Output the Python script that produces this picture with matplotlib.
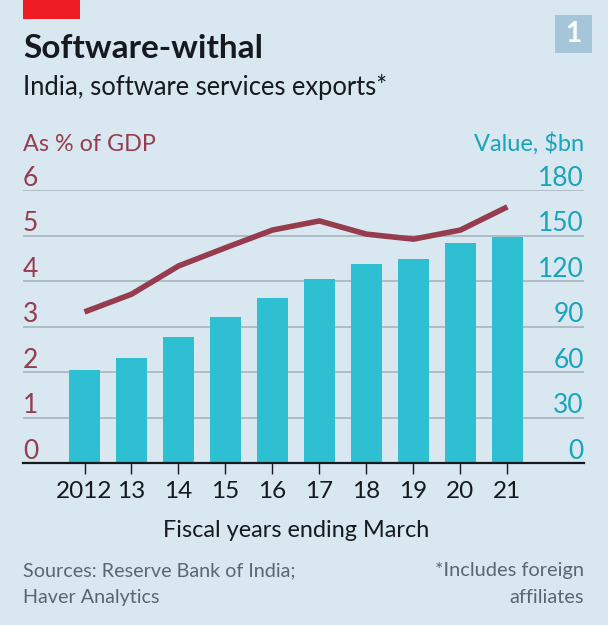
import matplotlib
matplotlib.use("Agg")
import matplotlib.pyplot as plt
from matplotlib.patches import Rectangle

years = ["2012", "13", "14", "15", "16", "17", "18", "19", "20", "21"]
value_bn = [61, 69, 83, 96, 109, 121, 131, 134.5, 145, 149]
pct_gdp = [3.32, 3.71, 4.33, 4.73, 5.12, 5.32, 5.03, 4.92, 5.12, 5.63]
left_ticks = [0, 1, 2, 3, 4, 5, 6]
right_ticks = [0, 30, 60, 90, 120, 150, 180]

BG = "#d8e7f0"
RED = "#963c4e"
CYAN = "#2fbfd3"
TEAL_TEXT = "#17a5bd"
DARK = "#16191d"
GREY = "#5b6770"
W, H = 608, 625

plt.rcParams["font.family"] = ["Lato", "DejaVu Sans"]

fig = plt.figure(figsize=(W / 100, H / 100), dpi=100, facecolor=BG)

# plot area in pixels: x 23-584, baseline y 463, top gridline y 190
ax = fig.add_axes([23 / W, 1 - 463 / H, 561 / W, 273 / H])
ax.set_facecolor("none")
ax2 = ax.twinx()
ax.set_zorder(2)
ax2.set_zorder(1)

x = list(range(len(years)))
ax.set_xlim(-1.309, 10.63)
ax.set_ylim(0, 6)
ax2.set_ylim(0, 180)

for t in left_ticks[1:]:
    ax2.axhline(t * 30, color="#aebcc5", lw=1.4, zorder=1)
ax2.bar(x, value_bn, width=0.66, color=CYAN, zorder=2)
ax.plot(x, pct_gdp, color=RED, lw=4, solid_capstyle="butt", solid_joinstyle="miter")

for a in (ax, ax2):
    for s in a.spines.values():
        s.set_visible(False)
    a.set_yticks([])
ax.spines["bottom"].set_visible(True)
ax.spines["bottom"].set_linewidth(1.6)
ax.spines["bottom"].set_color(DARK)

ax.set_xticks(x, years, fontsize=17.5, color=DARK)
ax.tick_params(axis="x", length=8, width=1, color=DARK, pad=5)

# tick labels sit on top of the gridlines, inside the plot
for t, r in zip(left_ticks, right_ticks):
    ax.annotate(str(t), (0, t), xycoords=("axes fraction", "data"), xytext=(0, 3),
                textcoords="offset points", ha="left", va="baseline", fontsize=19, color=RED)
    ax2.annotate(str(r), (1, r), xycoords=("axes fraction", "data"), xytext=(0, 3),
                 textcoords="offset points", ha="right", va="baseline", fontsize=19, color=TEAL_TEXT)


def txt(px, py, s, **kw):
    fig.text(px / W, 1 - py / H, s, va="baseline", **kw)


txt(23, 58, "Software-withal", fontsize=24, fontweight="bold", color=DARK)
txt(23, 95, "India, software services exports*", fontsize=18.4, color=DARK)
txt(23, 151, "As % of GDP", fontsize=16.8, color=RED)
txt(584, 151, "Value, $bn", fontsize=17, color=TEAL_TEXT, ha="right")
txt(296, 537, "Fiscal years ending March", fontsize=16.9, color=DARK, ha="center")
txt(23, 576, "Sources: Reserve Bank of India;", fontsize=14.2, color=GREY)
txt(23, 603, "Haver Analytics", fontsize=14.2, color=GREY)
txt(584, 576, "*Includes foreign", fontsize=14.4, color=GREY, ha="right")
txt(584, 603, "affiliates", fontsize=14.4, color=GREY, ha="right")

fig.add_artist(Rectangle((23 / W, 1 - 19 / H), 57 / W, 19 / H, transform=fig.transFigure,
                         color="#ee1c25", lw=0))
fig.add_artist(Rectangle((555 / W, 1 - 53 / H), 37 / W, 38 / H, transform=fig.transFigure,
                         color="#a5c6d8", lw=0))
fig.text(573 / W, 1 - 34 / H, "1", ha="center", va="center", fontsize=20, fontweight="bold", color="white")

fig.savefig("out.png", dpi=100, facecolor=BG)
